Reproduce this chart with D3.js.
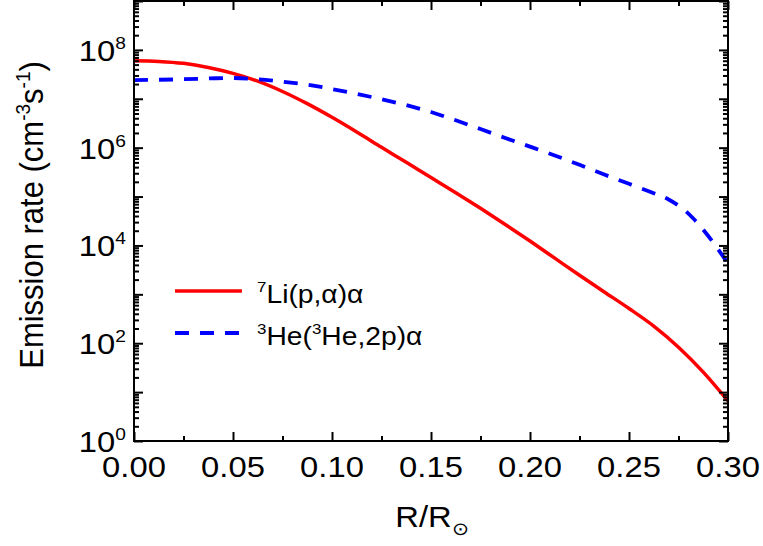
<!DOCTYPE html>
<html><head><meta charset="utf-8">
<script src="https://cdn.jsdelivr.net/npm/d3@7"></script>
<style>
html,body{margin:0;padding:0;background:#fff;}
text{font-family:"Liberation Sans",Arial,sans-serif;fill:#000;}
</style></head>
<body>
<svg id="chart" width="763" height="546"></svg>
<script>
// ---- data ----
const liR    = [0,0.0125,0.025,0.0375,0.05,0.0625,0.075,0.0875,0.10,0.1125,0.125,0.1375,0.15,0.1625,0.175,0.1875,0.20,0.2125,0.225,0.2375,0.25,0.2625,0.275,0.2875,0.30];
const liRate = [5.98e7,5.82e7,5.31e7,4.37e7,3.31e7,2.29e7,1.41e7,7.94e6,4.17e6,2.09e6,1.02e6,5.01e5,2.45e5,1.20e5,5.75e4,2.69e4,1.23e4,5.50e3,2.45e3,1.12e3,513,224,83,25.7,6.6];
const heR    = [0,0.0125,0.025,0.0375,0.05,0.0625,0.075,0.0875,0.10,0.1125,0.125,0.1375,0.15,0.1625,0.175,0.1875,0.20,0.2125,0.225,0.2375,0.25,0.2625,0.270,0.2775,0.2825,0.2875,0.2925,0.30];
const heRate = [2.41e7,2.45e7,2.51e7,2.60e7,2.66e7,2.51e7,2.24e7,1.95e7,1.58e7,1.26e7,9.77e6,7.41e6,5.37e6,3.63e6,2.40e6,1.58e6,1.05e6,6.92e5,4.47e5,2.82e5,1.82e5,1.17e5,8.71e4,5.50e4,3.55e4,2.09e4,1.15e4,4.27e3];
const xTicks = [0,0.05,0.10,0.15,0.20,0.25,0.30];
const xTickLabels = ["0.00","0.05","0.10","0.15","0.20","0.25","0.30"];
const xMinorTicks = [0.025,0.075,0.125,0.175,0.225,0.275];
const yLabelExps = [0,2,4,6,8];
const legendLabels = [
  [{t:"7",sup:true},{t:"Li(p,α)α"}],
  [{t:"3",sup:true},{t:"He("},{t:"3",sup:true},{t:"He,2p)α"}]
];
const seriesColors = ["#ff0000","#0000ff"];

// ---- layout ----
const svg = d3.select("#chart");
const L = 134, R = 728, T = 1, B = 441;
const SX = 1.13; // horizontal text stretch seen in the reference
const x = d3.scaleLinear().domain([0,0.3]).range([L,R]);
const y = d3.scaleLog().domain([1,1e9]).range([B,T]);

svg.append("defs").append("clipPath").attr("id","clip")
  .append("rect").attr("x",L).attr("y",T).attr("width",R-L).attr("height",B-T);

const line = d3.line().x(d=>x(d[0])).y(d=>y(d[1])).curve(d3.curveCatmullRom.alpha(0.5));
const g = svg.append("g").attr("clip-path","url(#clip)");
g.append("path").datum(liR.map((r,i)=>[r,liRate[i]]))
  .attr("d",line).attr("fill","none").attr("stroke",seriesColors[0]).attr("stroke-width",3.5);
g.append("path").datum(heR.map((r,i)=>[r,heRate[i]]))
  .attr("d",line).attr("fill","none").attr("stroke",seriesColors[1]).attr("stroke-width",3.8)
  .attr("stroke-dasharray","14,11");

const majorLen = 9, minorLen = 5;
const yMajor = d3.range(0,10).map(e=>Math.pow(10,e));
const yMinor = [];
for (let e=0;e<9;e++) for (let m=2;m<=9;m++) yMinor.push(m*Math.pow(10,e));

function styleAxis(sel){
  sel.select(".domain").remove();
  sel.selectAll(".tick line").attr("stroke","#000").attr("stroke-width",2);
  sel.selectAll(".tick text").remove();
}
svg.append("g").attr("transform",`translate(${L},0)`)
  .call(d3.axisRight(y).tickValues(yMajor).tickSize(majorLen).tickFormat("")).call(styleAxis);
svg.append("g").attr("transform",`translate(${L},0)`)
  .call(d3.axisRight(y).tickValues(yMinor).tickSize(minorLen).tickFormat("")).call(styleAxis);
svg.append("g").attr("transform",`translate(${R},0)`)
  .call(d3.axisLeft(y).tickValues(yMajor).tickSize(majorLen).tickFormat("")).call(styleAxis);
svg.append("g").attr("transform",`translate(${R},0)`)
  .call(d3.axisLeft(y).tickValues(yMinor).tickSize(minorLen).tickFormat("")).call(styleAxis);
svg.append("g").attr("transform",`translate(0,${B})`)
  .call(d3.axisTop(x).tickValues(xTicks).tickSize(majorLen).tickFormat("")).call(styleAxis);
svg.append("g").attr("transform",`translate(0,${B})`)
  .call(d3.axisTop(x).tickValues(xMinorTicks).tickSize(minorLen).tickFormat("")).call(styleAxis);
svg.append("g").attr("transform",`translate(0,${T})`)
  .call(d3.axisBottom(x).tickValues(xTicks).tickSize(majorLen).tickFormat("")).call(styleAxis);
svg.append("g").attr("transform",`translate(0,${T})`)
  .call(d3.axisBottom(x).tickValues(xMinorTicks).tickSize(minorLen).tickFormat("")).call(styleAxis);

svg.append("rect").attr("x",L).attr("y",T).attr("width",R-L).attr("height",B-T)
  .attr("fill","none").attr("stroke","#000").attr("stroke-width",2);

xTicks.forEach((v,i)=>{
  svg.append("text").attr("transform",`translate(${x(v)},477) scale(${SX},1)`)
    .attr("text-anchor","middle").attr("font-size",29).text(xTickLabels[i]);
});
yLabelExps.forEach(e=>{
  const t = svg.append("text").attr("transform",`translate(126,${y(Math.pow(10,e))+11}) scale(${SX},1)`)
    .attr("text-anchor","end").attr("font-size",29);
  t.append("tspan").text("10");
  t.append("tspan").attr("font-size",17).attr("dy",-12).text(String(e));
});

const xt = svg.append("text").attr("transform",`translate(432,527) scale(${SX},1)`)
  .attr("text-anchor","middle").attr("font-size",29);
xt.append("tspan").text("R/R");
xt.append("tspan").attr("font-size",18).attr("dy",8).text("⊙");

const yt = svg.append("text").attr("transform",`translate(43,215) rotate(-90) scale(1,1.08)`)
  .attr("text-anchor","middle").attr("font-size",31);
yt.append("tspan").text("Emission rate (cm");
yt.append("tspan").attr("font-size",19).attr("dy",-12).text("-3");
yt.append("tspan").attr("dy",12).text("s");
yt.append("tspan").attr("font-size",19).attr("dy",-12).text("-1");
yt.append("tspan").attr("dy",12).text(")");

const legY = [291,333];
legendLabels.forEach((parts,i)=>{
  svg.append("line").attr("x1",x(0.0207)).attr("x2",x(0.0545)).attr("y1",legY[i]).attr("y2",legY[i])
    .attr("stroke",seriesColors[i]).attr("stroke-width",i?3.8:3.5)
    .attr("stroke-dasharray",i?"14,11":null);
  const t = svg.append("text").attr("transform",`translate(257,${legY[i]+12}) scale(${SX},1)`)
    .attr("font-size",25);
  let up = false;
  parts.forEach(p=>{
    const ts = t.append("tspan").text(p.t);
    if (p.sup){ ts.attr("font-size",15).attr("dy", up? 0 : -11); up = true; }
    else { ts.attr("dy", up? 11 : 0); up = false; }
  });
});
</script>
</body></html>
